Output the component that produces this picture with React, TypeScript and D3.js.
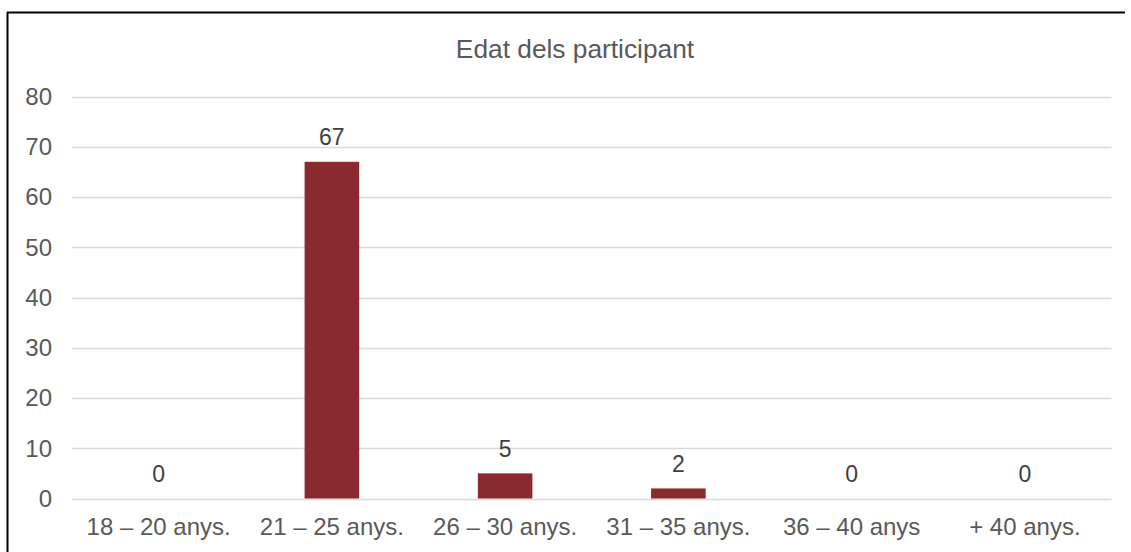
import React from "react";
import * as d3 from "d3";

const categories = ["18 – 20 anys.", "21 – 25 anys.", "26 – 30 anys.", "31 – 35 anys.", "36 – 40 anys", "+ 40 anys."];
const values = [0, 67, 5, 2, 0, 0];
const yTicks = [0, 10, 20, 30, 40, 50, 60, 70, 80];
const title = "Edat dels participant";

const W = 1131;
const H = 552;
const FONT = "'Liberation Sans', Arial, sans-serif";
const TXT = "#595959";

export default function App() {
  const x = d3.scaleBand<string>().domain(categories).range([72, 1111.5]).paddingInner(0.685).paddingOuter(0.3425);
  const y = d3.scaleLinear().domain([0, 80]).range([498.5, 96.5]);
  const bw = x.bandwidth();
  return (
    <svg width={W} height={H} style={{ position: "absolute", left: 0, top: 0, background: "#fff" }} fontFamily={FONT}>
      <rect x={0} y={0} width={W} height={H} fill="#fff" />
      <line x1={7} y1={12.5} x2={1125} y2={12.5} stroke="#000" strokeWidth={2} />
      <line x1={7.5} y1={12} x2={7.5} y2={H} stroke="#000" strokeWidth={2} />
      <text x={575} y={57.5} textAnchor="middle" fontSize={26.3} fill={TXT}>{title}</text>
      {yTicks.map((t) => (
        <g key={t}>
          <line x1={72} x2={1111.5} y1={Math.round(y(t)) + 0.5} y2={Math.round(y(t)) + 0.5} stroke="#d9d9d9" strokeWidth={1.5} />
          <text x={52} y={y(t)} dy="0.35em" textAnchor="end" fontSize={24} fill={TXT}>{t}</text>
        </g>
      ))}
      {categories.map((c, i) => (
        <g key={c}>
          {values[i] > 0 && (
            <rect x={(x(c) as number)} y={y(values[i])} width={bw} height={y(0) - y(values[i])} fill="#8B2A2E" />
          )}
          <text x={(x(c) as number) + bw / 2} y={y(values[i]) - 16.5} textAnchor="middle" fontSize={23} fill="#404040">{values[i]}</text>
          <text x={(x(c) as number) + bw / 2} y={535} textAnchor="middle" fontSize={24} fill={TXT}>{c}</text>
        </g>
      ))}
    </svg>
  );
}
